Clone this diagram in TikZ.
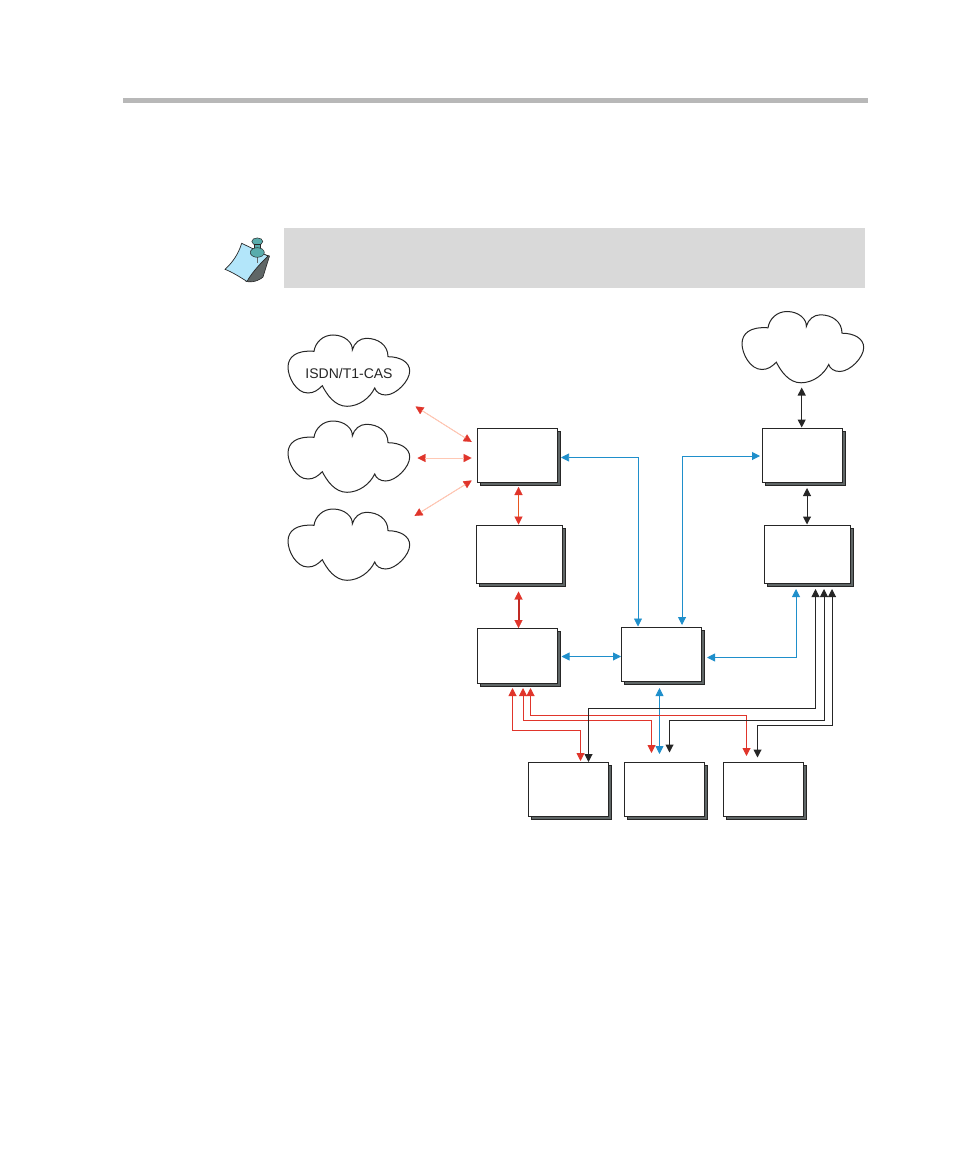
\documentclass[tikz,border=0pt]{standalone}
\usepackage{fontspec}
\setmainfont{Liberation Sans}
\usetikzlibrary{arrows.meta}
\definecolor{cred}{HTML}{E0352B}
\definecolor{cpeach}{HTML}{FFC8B4}
\definecolor{corange}{HTML}{E8561E}
\definecolor{cdred}{HTML}{C02A24}
\definecolor{cblue}{HTML}{1F8FCB}
\definecolor{cblack}{HTML}{262626}
\definecolor{cshadow}{HTML}{5F6666}
\tikzset{
  x=1pt,y=-1pt,
  shadowbox/.style={draw=cblack,line width=.9pt,fill=cshadow},
  cloudline/.style={draw=cblack,line width=1pt,fill=white},
  dbl/.style={{Triangle[width=8pt,length=8pt]}-{Triangle[width=8pt,length=8pt]}},
  tips/.style={draw=cred,line width=.2pt,dbl},
  shaft/.style={shorten >=7.6pt,shorten <=7.6pt},
  redline/.style={draw=cred,line width=1pt,dbl,color=cred},
  blueline/.style={draw=cblue,line width=.9pt,dbl,color=cblue},
  blackline/.style={draw=cblack,line width=1pt,dbl,color=cblack},
  pics/netcloud/.style={code={
    \path[cloudline] (26,16.3)
      .. controls (27.3,7.3) and (35,0) .. (45,0)
      .. controls (57,0) and (65,8) .. (64.3,15)
      .. controls (66,8) and (72,3.3) .. (78.3,3.3)
      .. controls (90,3.3) and (100,10) .. (100,21.7)
      .. controls (112,21.7) and (121.7,27) .. (121.7,36)
      .. controls (121.7,46) and (108,60) .. (97.7,60)
      .. controls (92,60) and (88,57) .. (86.7,53)
      .. controls (82,63) and (71,71.3) .. (59,71.3)
      .. controls (47,71.3) and (39,60) .. (34.3,50.7)
      .. controls (30,55) and (26,58) .. (20,58)
      .. controls (8,58) and (0,42) .. (0,32.3)
      .. controls (0,22) and (8,15) .. (26,16.3) -- cycle;
  }}
}
\newcommand{\shbox}[6]{% name, x1, y1, x2, y2
  \path[shadowbox] (#2+3,#3+3) rectangle (#4+3,#5+3);
  \node[draw=cblack,line width=1pt,fill=white,rectangle,inner sep=0pt,outer sep=0pt,anchor=north west,minimum width={(#4-#2)*1pt},minimum height={(#5-#3)*1pt}] (#1) at (#2,#3) {#6};
}
\begin{document}
\begin{tikzpicture}
\useasboundingbox (0,0) rectangle (954,1155);
% page furniture
\fill[fill=black!28] (123,98) rectangle (868,103);
\fill[fill=black!15] (284,228) rectangle (865,288);
% note icon
\path[draw=cblack,line width=.6pt,fill=cshadow] (246,281.5) .. controls (255,283) and (261,279) .. (263,277) -- (269.5,256) -- (262,254) -- cycle;
\path[draw=cblack,line width=.7pt,fill=cyan!30] (241.7,243.3)
  .. controls (238,255) and (232,263) .. (225,269.3)
  .. controls (232,272) and (240,277) .. (247,281.5)
  .. controls (252,272) and (262,262) .. (268,256)
  -- cycle;
\draw[line width=.9pt,cblack!70] (257.3,254) -- (257.3,263);
\path[fill=teal!65,draw=cblack,line width=.5pt] (257.3,241.5) ellipse [x radius=5.5,y radius=3.6];
\path[fill=teal!65,draw=cblack,line width=.5pt] (254.5,244) rectangle (260,249);
\path[fill=teal!65,draw=cblack,line width=.5pt] (257.3,252.5) ellipse [x radius=7,y radius=4.8];
% clouds
\pic (c1) at (288,335) {netcloud};
\pic (c2) at (288,421) {netcloud};
\pic (c3) at (288,509) {netcloud};
\pic (c4) at (742,311.5) {netcloud};
\node[font=\fontsize{14}{16}\selectfont,inner sep=0pt,text=cblack] (isdn) at (349,373.5) {ISDN/T1-CAS};
% boxes
\shbox{b1}{477}{428.5}{557.5}{482.5}{}
\shbox{b2}{476.5}{525.5}{562.5}{583.5}{}
\shbox{b3}{477}{628.5}{557.5}{683}{}
\shbox{b4}{621.5}{627.5}{701.5}{681.5}{}
\shbox{b5}{528.5}{762.5}{608.5}{816.5}{}
\shbox{b6}{624}{762.5}{704}{816.5}{}
\shbox{b7}{723.5}{762.5}{803.5}{816.5}{}
\shbox{b8}{762.5}{428.5}{842.5}{482.5}{}
\shbox{b9}{764.5}{525.5}{850.5}{583.5}{}
% connector end points
\coordinate (c1e) at (415.5,406.5); \coordinate (b1a) at (471.7,442);
\coordinate (c2e) at (417.5,458); \coordinate (b1b) at (471.7,458);
\coordinate (c3e) at (414.5,516); \coordinate (b1c) at (471.7,480.5);
\coordinate (b1s) at (518.5,487); \coordinate (b2n) at (518.5,524.5);
\coordinate (b2s) at (518.5,591.5); \coordinate (b3n) at (518.5,628);
\coordinate (b1e) at (561,457.5); \coordinate (b4n1) at (638,626.5);
\coordinate (b4n2) at (682,625); \coordinate (b8w) at (760,456);
\coordinate (c4s) at (801.7,387.5); \coordinate (b8n) at (801.7,427.5);
\coordinate (b8s) at (807,488); \coordinate (b9n) at (807,524.5);
\coordinate (b3e) at (561.5,656.5); \coordinate (b4w) at (621,656.5);
\coordinate (b4e) at (707,657.5); \coordinate (b9s0) at (796,589);
\coordinate (b4s) at (659.5,688); \coordinate (b6n) at (659.5,754);
\coordinate (b3s1) at (512.5,688); \coordinate (b5n1) at (580.5,761);
\coordinate (b3s2) at (523,688); \coordinate (b6n1) at (651.5,753);
\coordinate (b3s3) at (530.5,688); \coordinate (b7n1) at (746.5,756);
\coordinate (b9s1) at (815.5,589); \coordinate (b5n2) at (588.5,762);
\coordinate (b9s2) at (824,589); \coordinate (b6n2) at (669.5,752.5);
\coordinate (b9s3) at (832,589); \coordinate (b7n2) at (757.5,757.5);
% links with red tips: tips first, then the shaft in its own colour
\foreach \p/\q in {c1e/b1a,c2e/b1b,c3e/b1c,b1s/b2n,b2s/b3n}{\draw[tips] (\p) -- (\q);}
\foreach \p/\q in {c1e/b1a,c2e/b1b,c3e/b1c}{\draw[shaft,line width=1pt,cpeach] (\p) -- (\q);}
\draw[shaft,line width=1.2pt,corange] (b1s) -- (b2n);
\draw[shaft,line width=2pt,cdred] (b2s) -- (b3n);
% blue
\draw[blueline,line width=.7pt] (b1e) -| (b4n1);
\draw[blueline,line width=1pt] (b4n2) |- (b8w);
\draw[blueline] (b3e) -- (b4w);
\draw[blueline] (b4e) -| (b9s0);
\draw[blueline,line width=.8pt] (b4s) -- (b6n);
% black
\draw[blackline,line width=1.2pt] (c4s) -- (b8n);
\draw[blackline] (b8s) -- (b9n);
% red
\draw[redline] (b3s1) |- (580.5,730) -- (b5n1);
\draw[redline] (b3s2) |- (651.5,720) -- (b6n1);
\draw[redline] (b3s3) |- (746.5,715.5) -- (b7n1);
% black to lower boxes
\draw[blackline] (b9s1) |- (588.5,708) -- (b5n2);
\draw[blackline] (b9s2) |- (669.5,720.5) -- (b6n2);
\draw[blackline] (b9s3) |- (757.5,725.5) -- (b7n2);
\end{tikzpicture}
\end{document}
